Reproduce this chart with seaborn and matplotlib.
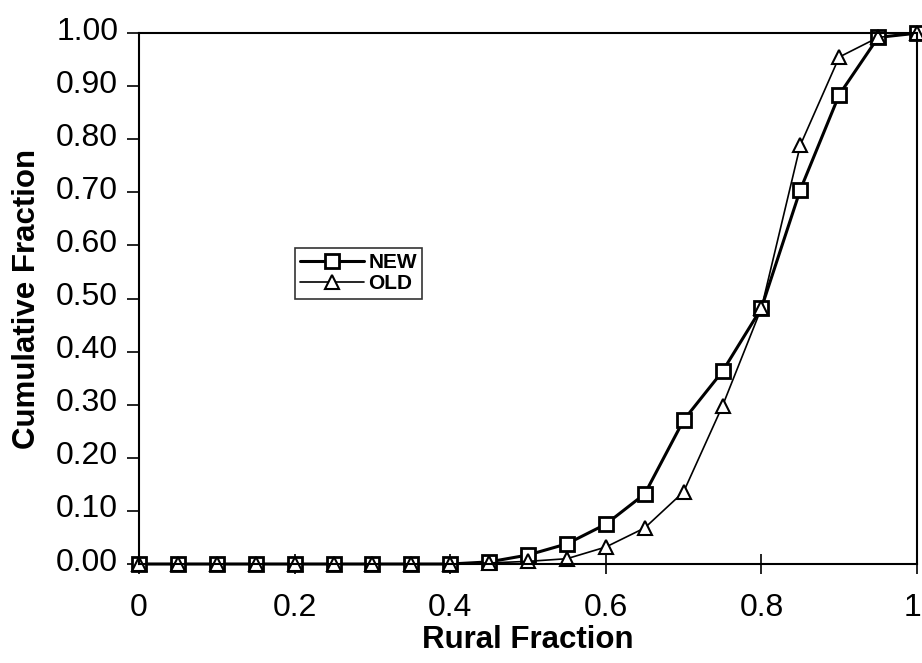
import numpy as np
import seaborn as sns
import pandas as pd
import matplotlib.pyplot as plt
from matplotlib.transforms import ScaledTranslation

# rural fraction bins and cumulative fractions
rural = [0.00, 0.05, 0.10, 0.15, 0.20, 0.25, 0.30, 0.35, 0.40, 0.45, 0.50,
         0.55, 0.60, 0.65, 0.70, 0.75, 0.80, 0.85, 0.90, 0.95, 1.00]
new = [0.0, 0.0, 0.0, 0.0, 0.0, 0.0, 0.0, 0.0, 0.0, 0.004, 0.017,
       0.038, 0.075, 0.132, 0.271, 0.363, 0.482, 0.705, 0.884, 0.992, 1.0]
old = [0.0, 0.0, 0.0, 0.0, 0.0, 0.0, 0.0, 0.0, 0.0, 0.002, 0.005,
       0.010, 0.032, 0.068, 0.136, 0.298, 0.482, 0.789, 0.955, 0.992, 1.0]
xticks = [0, 0.2, 0.4, 0.6, 0.8, 1]
xlabels = ['0', '0.2', '0.4', '0.6', '0.8', '1']
yticks = [0.0, 0.1, 0.2, 0.3, 0.4, 0.5, 0.6, 0.7, 0.8, 0.9, 1.0]

df = pd.DataFrame({'Rural': rural, 'NEW': new, 'OLD': old})

sns.set_style('ticks')
plt.rcParams['font.family'] = ['Liberation Sans', 'DejaVu Sans']
plt.rcParams['text.color'] = 'black'
plt.rcParams['axes.labelcolor'] = 'black'
plt.rcParams['xtick.color'] = 'black'
plt.rcParams['ytick.color'] = 'black'

fig = plt.figure(figsize=(9.22, 6.63), dpi=100)
ax = fig.add_axes([0.1508, 0.1493, 0.8438, 0.8007])

sns.lineplot(data=df, x='Rural', y='NEW', ax=ax, color='black', lw=2.2,
             marker='s', markersize=10, markerfacecolor='white',
             markeredgecolor='black', markeredgewidth=2, clip_on=False,
             label='NEW')
sns.lineplot(data=df, x='Rural', y='OLD', ax=ax, color='black', lw=1.2,
             marker='^', markersize=10, markerfacecolor='white',
             markeredgecolor='black', markeredgewidth=1.5, clip_on=False,
             label='OLD')

ax.set_xlim(0, 1)
ax.set_ylim(0, 1)
ax.set_xticks(xticks)
ax.set_xticklabels(xlabels)
ax.set_yticks(yticks)
ax.set_yticklabels(['%.2f' % v for v in yticks])
ax.tick_params(axis='x', direction='inout', length=14, width=1.2,
               labelsize=23, pad=14, color='black', labelcolor='black')
ax.tick_params(axis='y', direction='out', length=9, width=1.2,
               labelsize=23, pad=6, color='black', labelcolor='black')
# y labels sit a little above their ticks in the original
up = ScaledTranslation(0, 0.05, fig.dpi_scale_trans)
for lab in ax.get_yticklabels():
    lab.set_transform(lab.get_transform() + up)
# keep the last x label inside the picture
last = ax.get_xticklabels()[-1]
last.set_transform(last.get_transform() + ScaledTranslation(-0.05, 0, fig.dpi_scale_trans))
for s in ax.spines.values():
    s.set_visible(True)
    s.set_color('black')
    s.set_linewidth(1.5)

ax.set_xlabel('Rural Fraction', fontsize=22.5, fontweight='bold', labelpad=1)
ax.set_ylabel('Cumulative Fraction', fontsize=22.5, fontweight='bold', labelpad=10)

leg = ax.legend(loc='lower left', bbox_to_anchor=(0.2, 0.5), fontsize=15,
                frameon=True, fancybox=False, edgecolor='black',
                borderpad=0.25, labelspacing=0.1, handlelength=3.1,
                handletextpad=0.2, borderaxespad=0)
leg.get_frame().set_linewidth(1.2)
for t in leg.get_texts():
    t.set_fontweight('bold')
    t.set_color('black')

fig.savefig('out.png', dpi=100)
